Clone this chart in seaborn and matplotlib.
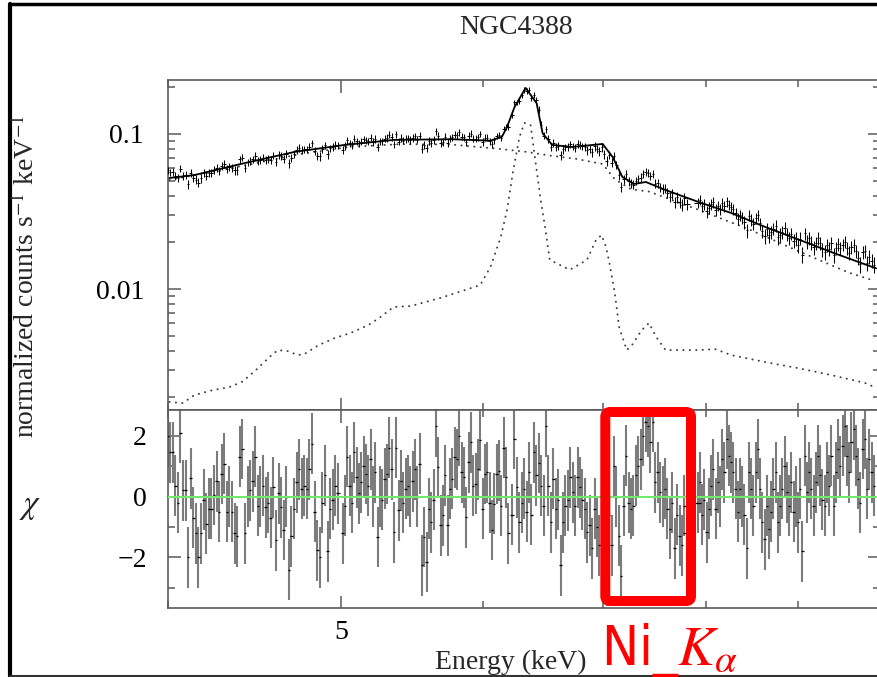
import numpy as np
import pandas as pd
import matplotlib
matplotlib.use("Agg")
import matplotlib.pyplot as plt
import seaborn as sns
from matplotlib.ticker import FixedLocator, FixedFormatter, NullFormatter
from matplotlib.patches import FancyBboxPatch
from matplotlib.lines import Line2D
from matplotlib.transforms import IdentityTransform

# ---------------- text ----------------
title = "NGC4388"
x_label = "Energy (keV)"
y_label_top = "normalized counts s$^{-1}$ keV$^{-1}$"
y_label_bottom = r"$\chi$"
annotation = r"Ni_$K_{\alpha}$"

# ---------------- model curves ----------------
model_energy = [4.01, 4.14, 4.42, 4.71, 5.02, 5.35, 5.76, 6.06, 6.15, 6.19, 6.25, 6.34,
                6.43, 6.48, 6.56, 6.73, 7.00, 7.09, 7.18, 7.29, 7.40, 7.59, 7.92, 8.26,
                8.63, 9.02, 9.42, 9.95]
model_flux = [0.0520, 0.0543, 0.0650, 0.0766, 0.0849, 0.0915, 0.0925, 0.0905, 0.096,
              0.111, 0.149, 0.198, 0.158, 0.101, 0.085, 0.0824, 0.0862, 0.0711, 0.0528,
              0.0476, 0.0490, 0.0435, 0.0364, 0.0309, 0.0251, 0.0207, 0.0171, 0.0136]

cont_energy = [4.01, 4.46, 4.75, 5.06, 5.40, 5.76, 6.14, 6.35, 6.54, 6.77, 7.00, 7.11,
               7.26, 7.43, 7.92, 8.44, 9.00, 9.60, 9.93]
cont_flux = [0.0505, 0.0640, 0.0745, 0.0825, 0.0860, 0.0855, 0.0800, 0.0766, 0.0725,
             0.0690, 0.0640, 0.0510, 0.0440, 0.0425, 0.0324, 0.0244, 0.0176, 0.0128, 0.0113]

line_energy = [4.01, 4.08, 4.14, 4.24, 4.33, 4.40, 4.47, 4.56, 4.61, 4.67, 4.73, 4.77,
               4.86, 4.96, 5.06, 5.18, 5.26, 5.35, 5.47, 5.68, 5.98, 6.06, 6.14, 6.19,
               6.24, 6.29, 6.33, 6.38, 6.40, 6.43, 6.46, 6.50, 6.54, 6.71, 6.86, 6.94,
               6.99, 7.03, 7.06, 7.11, 7.15, 7.22, 7.27, 7.36, 7.43, 7.50, 7.59, 7.92,
               8.09, 8.26, 8.63, 9.00, 9.39, 9.81, 9.93]
line_flux = [0.00187, 0.00184, 0.00207, 0.00223, 0.00233, 0.00251, 0.00292, 0.00364,
             0.00404, 0.00398, 0.00375, 0.00381, 0.00436, 0.00483, 0.00520, 0.00586,
             0.00660, 0.00766, 0.00777, 0.00875, 0.0106, 0.0139, 0.0216, 0.0323, 0.0586,
             0.0957, 0.1178, 0.1143, 0.0875, 0.0586, 0.0393, 0.0251, 0.0154, 0.0133,
             0.0154, 0.0207, 0.0223, 0.0187, 0.0149, 0.00942, 0.00569, 0.00404, 0.00436,
             0.00543, 0.00604, 0.00490, 0.00404, 0.00404, 0.00410, 0.00375, 0.00338,
             0.00309, 0.00279, 0.00248, 0.00233]

# ---------------- residuals (chi), read bar by bar in four energy ranges ----------------
range_A = (4.00, 4.98)
chi_A = [2.0, 1.45, 1.45, 0.36, -0.2, 2.1, 0.2, 0.2, -2.0, 0.6, -0.7, -1.2, -2.0, -1.2,
         -0.1, -0.9, -0.4, -0.4, 0.05, 0.5, -0.5, 0.74, 1.07, -0.5, 0.0, -0.5, -1.2, -1.3,
         1.3, 1.56, -1.2, 0.0, 0.2, 0.5, 1.3, -0.3, 0.0, 0.36, -0.35, -0.2, -0.7, 0.3,
         -1.44, 0.1, -0.35, -1.1, 0.0, -2.4, -1.3, -0.4, 0.47, 0.9, 0.25, 0.36, 0.25, 0.9,
         1.73, -0.5, -1.77, -2.0, -0.2, 0.7, -1.8, -0.4, -0.1, 0.36, 0.1]
range_B = (5.01, 6.20)
chi_B = [-1.2, -0.3, 1.3, 0.36, -0.2, 1.45, 0.63, 0.1, 0.47, 1.0, 0.74, 0.36, 1.23, 0.0,
         0.8, -1.33, 0.0, -0.1, 0.58, 0.74, 1.6, 0.9, -1.17, 1.6, -0.45, 0.52, -0.2, 0.25,
         0.36, 0.0, 0.5, 0.9, 0.0, 1.07, -2.26, -1.33, -2.15, -0.4, -0.85, -0.1, 2.3, 0.96,
         -0.95, -0.62, 0.69, -0.95, 0.25, 0.58, 1.29, 1.23, 2.0, 0.8, 0.63, -0.68, 1.13,
         1.78, 0.36, 0.42, 0.9, 1.84, -0.4, 0.74, 0.8, -0.2, -1.1, -0.24, 0.74, 0.85, -0.3,
         1.6, 0.63, -1.2]
range_C = (6.23, 7.80)
chi_C = [-0.6, 1.9, 0.3, -0.85, -0.2, 0.25, -0.5, 0.8, -0.6, 1.45, 0.7, 1.1, 0.36, -0.3,
         2.3, 0.36, -0.85, 0.58, -0.4, -0.1, -2.26, -0.85, -0.3, -0.13, 0.63, 0.14, -0.3,
         0.63, 0.3, -0.1, -0.4, -1.17, -0.95, -1.7, -0.4, -1.0, -1.6, -0.8, -1.9, -2.6,
         -0.62, -1.6, 1.0, 0.0, -1.28, -2.6, -0.3, 1.34, -0.2, -0.4, -0.3, 0.7, 1.0, 1.23,
         2.0, 2.45, 2.3, 1.78, 2.45, 0.47, 0.8, 0.14, 0.0, 0.25, -0.4, -1.06, -0.2, -1.7,
         -0.6, -1.28, -1.6, -0.3, -1.2]
range_D = (7.91, 9.92)
chi_D = [-0.2, 0.47, -0.6, -0.1, -1.17, -0.4, 0.36, 0.9, -0.4, 0.47, 0.0, 1.23, 0.8, 1.9,
         1.34, 1.13, 0.8, 0.25, -0.5, 0.25, 0.0, -0.6, -1.7, 0.8, 0.25, -0.3, 0.8, 1.56,
         0.25, -0.85, -1.4, -0.3, -1.06, -0.5, 0.25, 0.8, -0.85, -0.3, 0.25, 1.0, 0.14,
         -0.3, 0.47, -0.5, 0.0, -0.85, 0.25, -1.8, 1.34, 0.14, 0.8, 0.25, -0.3, 0.47, 1.34,
         0.7, -0.1, -0.3, 0.8, 0.36, 1.34, -0.3, 0.8, 1.56, 1.0, 1.67, 2.3, 1.34, 0.8, 1.78,
         2.2, 1.34, 0.58, -0.2, 1.56, 1.9, 0.25, 1.23, 0.8, 0.36]

# relative 1-sigma error of the spectrum points
rel_err_energy = [4.0, 5.0, 6.0, 6.3, 6.45, 7.0, 8.0, 9.0, 10.0]
rel_err = [0.06, 0.055, 0.055, 0.038, 0.055, 0.06, 0.08, 0.10, 0.12]

x_major = [5, 10]
x_minor = [4, 6, 7, 8, 9]
x_major_labels = ["5", ""]
y1_major = [0.01, 0.1]
y1_major_labels = ["0.01", "0.1"]
y1_minor = [0.002, 0.003, 0.004, 0.005, 0.006, 0.007, 0.008, 0.009,
            0.02, 0.03, 0.04, 0.05, 0.06, 0.07, 0.08, 0.09, 0.2]
y2_major = [-2, 0, 2]
y2_major_labels = ["\u22122", "0", "2"]
y2_minor = [-3, -1, 1]

# ---------------- derived arrays ----------------
ranges = [(range_A, chi_A), (range_B, chi_B), (range_C, chi_C), (range_D, chi_D)]
energy = np.concatenate([np.geomspace(r[0], r[1], len(c)) for r, c in ranges])
chi = np.concatenate([np.asarray(c, float) for r, c in ranges])
half_w = np.gradient(energy) / 2.0

model_at_bins = np.exp(np.interp(np.log(energy), np.log(model_energy), np.log(model_flux)))
err_at_bins = model_at_bins * np.interp(energy, rel_err_energy, rel_err)
counts = model_at_bins + chi * err_at_bins

df_model = pd.DataFrame({"E": model_energy, "F": model_flux})
df_cont = pd.DataFrame({"E": cont_energy, "F": cont_flux})
df_line = pd.DataFrame({"E": line_energy, "F": line_flux})

# ---------------- style ----------------
sns.set_theme(style="ticks")
plt.rcParams["font.family"] = ["Liberation Serif", "DejaVu Serif"]
plt.rcParams["mathtext.fontset"] = "stix"
plt.rcParams["axes.facecolor"] = "white"
plt.rcParams["figure.facecolor"] = "white"

W, H = 877, 677
fig = plt.figure(figsize=(W / 100, H / 100), dpi=100)


def frac(x0, y_top, x1, y_bot):
    return [x0 / W, 1 - y_bot / H, (x1 - x0) / W, (y_bot - y_top) / H]


ax1 = fig.add_axes(frac(167.5, 80, 880, 410))
ax2 = fig.add_axes(frac(167.5, 410, 880, 608), sharex=ax1)

spine_col = "#5a5a5a"

# ---------------- upper panel ----------------
ax1.vlines(energy, counts - err_at_bins, counts + err_at_bins, color="black", lw=0.75, zorder=3)
ax1.hlines(counts, energy - half_w, energy + half_w, color="black", lw=0.75, zorder=3)
sns.lineplot(data=df_model, x="E", y="F", ax=ax1, color="black", linewidth=1.3,
             estimator=None, sort=False, zorder=4)
for dfc in (df_cont, df_line):
    sns.lineplot(data=dfc, x="E", y="F", ax=ax1, color="#3a3a3a", linewidth=1.4,
                 estimator=None, sort=False, linestyle=(0, (0.1, 3.2)),
                 dash_capstyle="round", zorder=2)
ax1.set_xscale("log")
ax1.set_yscale("log")
ax1.set_xlim(4.0, 10.0)
ax1.set_ylim(0.00166, 0.2228)
ax1.set_xlabel("")
ax1.set_ylabel("")

# ---------------- lower panel ----------------
ax2.vlines(energy, chi - 1, chi + 1, color="#7c7c7c", lw=1.5, zorder=2)
ax2.hlines(chi, energy - half_w, energy + half_w, color="black", lw=0.9, zorder=3)
ax2.axhline(0, color="#6fea6f", lw=1.5, zorder=5)
ax2.set_ylim(-3.66, 2.84)
ax2.set_xlabel("")
ax2.set_ylabel("")

for ax in (ax1, ax2):
    ax.xaxis.set_major_locator(FixedLocator(x_major))
    ax.xaxis.set_minor_locator(FixedLocator(x_minor))
    ax.xaxis.set_minor_formatter(NullFormatter())
    for s in ax.spines.values():
        s.set_color(spine_col)
        s.set_linewidth(1.2)
    ax.tick_params(which="both", direction="in", top=True, right=True,
                   color=spine_col, width=1.1, labelsize=20, labelcolor="black")
    ax.tick_params(which="major", length=9)
    ax.tick_params(which="minor", length=5)

ax1.xaxis.set_major_formatter(NullFormatter())
ax1.yaxis.set_major_locator(FixedLocator(y1_major))
ax1.yaxis.set_major_formatter(FixedFormatter(y1_major_labels))
ax1.yaxis.set_minor_locator(FixedLocator(y1_minor))
ax1.yaxis.set_minor_formatter(NullFormatter())
ax1.tick_params(axis="y", which="major", pad=17)

ax2.xaxis.set_major_formatter(FixedFormatter(x_major_labels))
ax2.yaxis.set_major_locator(FixedLocator(y2_major))
ax2.yaxis.set_major_formatter(FixedFormatter(y2_major_labels))
ax2.yaxis.set_minor_locator(FixedLocator(y2_minor))
ax2.tick_params(axis="y", which="major", pad=15)
ax2.tick_params(axis="x", which="major", pad=8.5)

# ---------------- texts ----------------
fig.text(516 / W, 1 - 28 / H, title, ha="center", va="center", fontsize=20)
fig.text(511 / W, 1 - 662 / H, x_label, ha="center", va="center", fontsize=20)
fig.text(26 / W, 1 - 276 / H, y_label_top, ha="center", va="center",
         rotation=90, fontsize=20)
fig.text(30 / W, 1 - 507 / H, y_label_bottom, ha="center", va="center", fontsize=24)

# ---------------- outer frame ----------------
idt = IdentityTransform()
fig.add_artist(Line2D([10, 10], [H - 4, H - 676], transform=idt, color="black", lw=3))
fig.add_artist(Line2D([10, W + 2], [H - 4, H - 4], transform=idt, color="black", lw=2.5))
fig.add_artist(Line2D([10, W + 2], [H - 676, H - 676], transform=idt, color="#333333", lw=1.5))

# ---------------- highlight box and annotation ----------------
box = FancyBboxPatch((605.3, H - 601), 85.7, 189,
                     boxstyle="round,pad=0,rounding_size=5",
                     transform=idt, fill=False, edgecolor="#ff0000", linewidth=7.2,
                     zorder=10)
fig.add_artist(box)
fig.text(601 / W, 12 / H, annotation, color="#ff0000", fontsize=40,
         family=["DejaVu Sans"], fontstretch="condensed",
         ha="left", va="baseline")

fig.savefig("out.png", dpi=100)
